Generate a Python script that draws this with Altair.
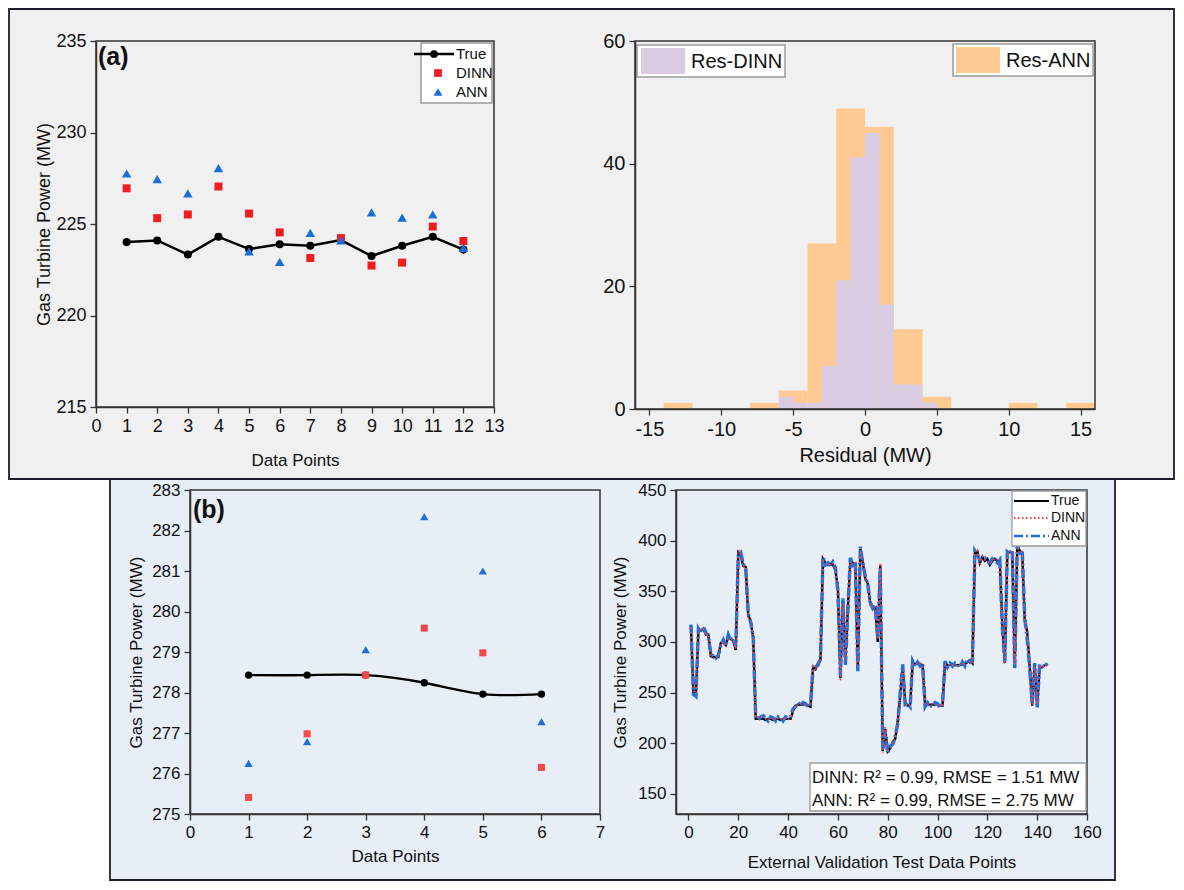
import altair as alt
import pandas as pd

FONT = "Liberation Sans"
AXIS = "#333333"
TOP_BG = "#f0f0f0"
BOT_BG = "#e7eef6"
RED_A = "#ee1d23"
BLUE_A = "#1b6ed3"
RED_B = "#f24a4a"
BLUE_B = "#1f6fd4"
ORANGE = "#ffc994"
LAVENDER = "#d9cbe2"
TS_BLUE = "#1e70dc"
TS_RED = "#ff4040"

# ---------------- panel (a) left ----------------
a_points = list(range(1, 13))
a_true = [224.01, 224.10, 223.33, 224.30, 223.63, 223.89, 223.81, 224.12, 223.25, 223.81, 224.30, 223.60]
a_dinn = [226.95, 225.32, 225.52, 227.05, 225.57, 224.54, 223.14, 224.23, 222.73, 222.89, 224.86, 224.07]
a_ann = [227.76, 227.45, 226.67, 228.05, 223.50, 222.93, 224.52, 224.10, 225.64, 225.35, 225.53, 223.69]
a_xticks = list(range(0, 14))
a_yticks = [215, 220, 225, 230, 235]

# ---------------- panel (a) right: residual histograms ----------------
ann_bin_start = [-14, -8, -6, -4, -2, 0, 2, 4, 10, 14]
ann_bin_end = [-12, -6, -4, -2, 0, 2, 4, 6, 12, 16]
ann_counts = [1, 1, 3, 27, 49, 46, 13, 2, 1, 1]
dinn_bin_start = [-6, -5, -4, -3, -2, -1, 0, 1, 2, 3, 4]
dinn_bin_end = [-5, -4, -3, -2, -1, 0, 1, 2, 3, 4, 5]
dinn_counts = [2, 1, 1, 7, 21, 41, 45, 17, 4, 4, 1]
h_xticks = [-15, -10, -5, 0, 5, 10, 15]
h_yticks = [0, 20, 40, 60]

# ---------------- panel (b) left ----------------
b_points = [1, 2, 3, 4, 5, 6]
b_true = [278.43, 278.43, 278.43, 278.24, 277.96, 277.96]
b_dinn = [275.41, 276.98, 278.43, 279.59, 278.98, 276.15]
b_ann = [276.25, 276.79, 279.06, 282.34, 281.00, 277.28]
b_xticks = list(range(0, 8))
b_yticks = list(range(275, 284))

# ---------------- panel (b) right: external validation series ----------------
ts_true = [316, 250, 248, 311, 311, 313, 307, 307, 286, 285,
           285, 285, 299, 300, 297, 305, 303, 301, 292, 388,
           385, 375, 374, 326, 321, 303, 224, 224, 224, 224,
           223, 224, 224, 223, 224, 224, 223, 224, 224, 224,
           224, 232, 237, 238, 238, 238, 238, 237, 236, 275,
           273, 279, 282, 382, 378, 376, 377, 376, 371, 353,
           264, 340, 280, 333, 380, 378, 376, 274, 392, 379,
           362, 358, 337, 335, 334, 300, 376, 192, 214, 192,
           195, 201, 204, 221, 246, 275, 240, 237, 238, 279,
           278, 279, 278, 277, 238, 238, 238, 238, 238, 238,
           237, 237, 279, 277, 277, 278, 277, 277, 277, 278,
           278, 280, 282, 279, 388, 389, 378, 384, 380, 382,
           376, 380, 382, 380, 379, 318, 279, 387, 389, 388,
           276, 394, 390, 388, 321, 310, 276, 237, 277, 237,
           275, 275, 277, 277]
ts_dinn = [314, 252, 249, 309, 312, 314, 306, 308, 287, 284,
           286, 285, 300, 299, 298, 304, 304, 302, 293, 391,
           386, 374, 375, 324, 322, 302, 225, 226, 227, 225,
           224, 223, 225, 224, 223, 225, 224, 223, 225, 223,
           225, 231, 238, 237, 239, 238, 237, 238, 237, 276,
           272, 280, 281, 380, 379, 375, 378, 377, 369, 355,
           262, 338, 282, 335, 379, 377, 378, 276, 390, 380,
           361, 359, 336, 336, 332, 302, 378, 190, 216, 193,
           194, 202, 203, 222, 244, 273, 241, 236, 239, 278,
           279, 278, 279, 276, 239, 237, 238, 239, 237, 238,
           238, 236, 278, 278, 276, 277, 278, 276, 278, 277,
           279, 281, 281, 280, 386, 390, 377, 385, 381, 381,
           377, 379, 383, 381, 378, 320, 278, 385, 390, 387,
           278, 392, 391, 387, 319, 312, 278, 238, 276, 238,
           276, 274, 278, 277]
ts_ann = [317, 248, 246, 313, 309, 315, 309, 305, 288, 286,
          284, 287, 297, 302, 296, 307, 301, 304, 295, 385,
          388, 377, 372, 328, 319, 305, 226, 223, 226, 227,
          225, 222, 226, 225, 222, 226, 225, 222, 226, 225,
          226, 234, 236, 240, 237, 240, 239, 236, 238, 273,
          275, 277, 284, 384, 376, 378, 375, 379, 373, 350,
          267, 343, 277, 331, 383, 376, 379, 271, 394, 377,
          365, 356, 339, 333, 336, 303, 373, 195, 211, 190,
          197, 199, 206, 219, 249, 278, 238, 239, 236, 281,
          276, 280, 276, 279, 236, 240, 237, 236, 240, 239,
          235, 239, 281, 275, 279, 276, 279, 278, 275, 280,
          276, 283, 280, 282, 390, 386, 381, 382, 383, 379,
          378, 382, 380, 378, 381, 315, 281, 389, 387, 391,
          273, 396, 388, 390, 324, 303, 274, 239, 279, 235,
          278, 277, 275, 279]
ts_x = list(range(1, len(ts_true) + 1))
t_xticks = list(range(0, 161, 20))
t_yticks = [150, 200, 250, 300, 350, 400, 450]

legend_a = ["True", "DINN", "ANN"]
hist_labels = ["Res-DINN", "Res-ANN"]
stats_lines = ["DINN: R\u00b2 = 0.99, RMSE = 1.51 MW", "ANN: R\u00b2 = 0.99, RMSE = 2.75 MW"]

# ---------------- layout sizes ----------------
A1_W, A1_H = 398, 366
A2_W, A2_H = 460, 368
B1_W, B1_H = 410, 324
B2_W, B2_H = 411, 324

one = pd.DataFrame({"k": [0]})


def rect(x, x2, y, y2, **kw):
    return alt.Chart(one).mark_rect(**kw).encode(
        x=alt.value(x), x2=alt.value(x2), y=alt.value(y), y2=alt.value(y2))


def frame(w, h):
    return rect(0, w, 0, h, fill="white", fillOpacity=0, stroke=AXIS, strokeWidth=1.5)


def text(x, y, s, size, weight="normal", baseline="alphabetic", align="left"):
    return alt.Chart(one).mark_text(
        font=FONT, fontSize=size, fontWeight=weight, baseline=baseline,
        align=align, color="#111111").encode(
        x=alt.value(x), y=alt.value(y), text=alt.value(s))


def hrule(x, x2, y, color, width, dash=None):
    kw = dict(color=color, strokeWidth=width)
    if dash:
        kw["strokeDash"] = dash
    return alt.Chart(one).mark_rule(**kw).encode(
        x=alt.value(x), x2=alt.value(x2), y=alt.value(y))


def sym(x, y, shape, color, size):
    return alt.Chart(one).mark_point(shape=shape, filled=True, color=color,
                                     size=size, opacity=1).encode(
        x=alt.value(x), y=alt.value(y))


def axis(values, title, lsize, tsize, tpad, lpad=3):
    kw = dict(values=values, grid=False, labelFontSize=lsize, titleFontSize=tsize,
              titlePadding=tpad, labelPadding=lpad, tickSize=6, tickWidth=1.3,
              domainWidth=1.5, domainColor=AXIS, tickColor=AXIS, labelColor="#111111",
              titleColor="#111111", titleFontWeight="normal", labelFont=FONT,
              titleFont=FONT, labelFlush=False, labelOverlap=False,
              labelExpr="'' + datum.value", zindex=2)
    kw["title"] = title
    return alt.Axis(**kw)


# ================= panel (a) left =================
a1_df = pd.DataFrame({"x": a_points, "true": a_true, "dinn": a_dinn, "ann": a_ann})
xa1 = alt.X("x:Q", scale=alt.Scale(domain=[0, 13], nice=False, zero=False),
            axis=axis(a_xticks, "Data Points", 18, 17, 17, 4))


def ya1(f):
    return alt.Y(f + ":Q", scale=alt.Scale(domain=[215, 235], nice=False, zero=False),
                 axis=axis(a_yticks, "Gas Turbine Power (MW)", 18, 18, 2, 4))


base_a1 = alt.Chart(a1_df)
A1 = alt.layer(
    rect(-87, 1078, -32, 438, fill=TOP_BG, stroke="#1e1e2a", strokeWidth=1.8),
    base_a1.mark_line(color="black", strokeWidth=2.5).encode(x=xa1, y=ya1("true")),
    base_a1.mark_point(shape="circle", filled=True, color="black", size=65, opacity=1).encode(x=xa1, y=ya1("true")),
    base_a1.mark_point(shape="square", filled=True, color=RED_A, size=64, opacity=1).encode(x=xa1, y=ya1("dinn")),
    base_a1.mark_point(shape="triangle-up", filled=True, color=BLUE_A, size=90, opacity=1).encode(x=xa1, y=ya1("ann")),
    frame(A1_W, A1_H),
    rect(325, 396, 2, 62, fill="white", stroke="#9a9a9a", strokeWidth=1.5),
    hrule(318, 358, 13, "black", 2.5),
    sym(338, 13, "circle", "black", 60),
    sym(342, 32, "square", RED_A, 60),
    sym(342, 51, "triangle-up", BLUE_A, 80),
    text(360, 13, legend_a[0], 15, baseline="middle"),
    text(360, 32, legend_a[1], 15, baseline="middle"),
    text(360, 51, legend_a[2], 15, baseline="middle"),
    text(2, 24, "(a)", 25, weight="bold"),
).properties(width=A1_W, height=A1_H)

# ================= panel (a) right =================
ann_df = pd.DataFrame({"s": ann_bin_start, "e": ann_bin_end, "c": ann_counts})
dinn_df = pd.DataFrame({"s": dinn_bin_start, "e": dinn_bin_end, "c": dinn_counts})
xh = alt.X("s:Q", scale=alt.Scale(domain=[-16, 16], nice=False, zero=False),
           axis=axis(h_xticks, "Residual (MW)", 20, 20, 6, 4))
yh = alt.Y("c:Q", scale=alt.Scale(domain=[0, 60], nice=False),
           axis=axis(h_yticks, None, 20, 20, 6, 4))
A2 = alt.layer(
    alt.Chart(ann_df).mark_rect(color=ORANGE, opacity=1).encode(x=xh, x2="e:Q", y=yh, y2=alt.datum(0)),
    alt.Chart(dinn_df).mark_rect(color=LAVENDER, opacity=1).encode(x=xh, x2="e:Q", y=yh, y2=alt.datum(0)),
    frame(A2_W, A2_H),
    rect(2, 150, 4, 36, fill="white", stroke="#9a9a9a", strokeWidth=1.5),
    rect(6, 50, 7, 33, fill=LAVENDER),
    text(56, 21, hist_labels[0], 20, baseline="middle"),
    rect(318, 458, 3, 35, fill="white", stroke="#9a9a9a", strokeWidth=1.5),
    rect(321, 365, 6, 32, fill=ORANGE),
    text(371, 20, hist_labels[1], 20, baseline="middle"),
).properties(width=A2_W, height=A2_H)

# ================= panel (b) left =================
b1_df = pd.DataFrame({"x": b_points, "true": b_true, "dinn": b_dinn, "ann": b_ann})
xb1 = alt.X("x:Q", scale=alt.Scale(domain=[0, 7], nice=False, zero=False),
            axis=axis(b_xticks, "Data Points", 17, 17, 8, 4))


def yb1(f):
    return alt.Y(f + ":Q", scale=alt.Scale(domain=[275, 283], nice=False, zero=False),
                 axis=axis(b_yticks, "Gas Turbine Power (MW)", 17, 17, 6, 4))


base_b1 = alt.Chart(b1_df)
B1 = alt.layer(
    rect(-80, 925, -11, 390, fill=BOT_BG, stroke="#1e1e2a", strokeWidth=1.8),
    base_b1.mark_line(color="black", strokeWidth=2.4, interpolate="natural").encode(x=xb1, y=yb1("true")),
    base_b1.mark_point(shape="circle", filled=True, color="black", size=55, opacity=1).encode(x=xb1, y=yb1("true")),
    base_b1.mark_point(shape="square", filled=True, color=RED_B, size=50, opacity=1).encode(x=xb1, y=yb1("dinn")),
    base_b1.mark_point(shape="triangle-up", filled=True, color=BLUE_B, size=70, opacity=1).encode(x=xb1, y=yb1("ann")),
    frame(B1_W, B1_H),
    text(3, 28, "(b)", 25, weight="bold"),
).properties(width=B1_W, height=B1_H)

# ================= panel (b) right =================
t_true = pd.DataFrame({"x": ts_x, "v": ts_true})
t_dinn = pd.DataFrame({"x": ts_x, "v": ts_dinn})
t_ann = pd.DataFrame({"x": ts_x, "v": ts_ann})
xt = alt.X("x:Q", scale=alt.Scale(domain=[-5, 160], nice=False, zero=False),
           axis=axis(t_xticks, "External Validation Test Data Points", 17, 17, 14, 4))
yt = alt.Y("v:Q", scale=alt.Scale(domain=[130, 450], nice=False, zero=False),
           axis=axis(t_yticks, "Gas Turbine Power (MW)", 17, 17, 8, 4))
B2 = alt.layer(
    alt.Chart(t_true).mark_line(color="black", strokeWidth=2.4).encode(x=xt, y=yt),
    alt.Chart(t_ann).mark_line(color=TS_BLUE, strokeWidth=3.4, strokeDash=[9, 3, 2, 3]).encode(x=xt, y=yt),
    alt.Chart(t_dinn).mark_line(color=TS_RED, strokeWidth=1.8, strokeDash=[1.5, 3]).encode(x=xt, y=yt),
    frame(B2_W, B2_H),
    rect(336, 410, 1, 56, fill="white", stroke="#9a9a9a", strokeWidth=1.3),
    hrule(338, 373, 11, "black", 2),
    hrule(338, 373, 28, TS_RED, 1.8, [1.5, 2.5]),
    hrule(338, 373, 46, TS_BLUE, 2.5, [9, 3, 2, 3]),
    text(375, 11, legend_a[0], 14, baseline="middle"),
    text(375, 28, legend_a[1], 14, baseline="middle"),
    text(375, 46, legend_a[2], 14, baseline="middle"),
    rect(134, 410, B2_H - 51, B2_H - 3, fill="white", stroke="#9a9a9a", strokeWidth=1.3),
    text(136, B2_H - 31, stats_lines[0], 17),
    text(136, B2_H - 8, stats_lines[1], 17),
).properties(width=B2_W, height=B2_H)

spacer = alt.Chart(one).mark_point(opacity=0).encode(
    x=alt.value(0), y=alt.value(0)).properties(width=18, height=B1_H)

top_row = alt.hconcat(A1, A2, spacing=141, bounds="flush")
bottom_row = alt.hconcat(spacer, B1, B2, spacing=76, bounds="flush")

chart = alt.vconcat(top_row, bottom_row, spacing=-2).properties(
    padding=0, background="white"
).configure_view(strokeWidth=0)

chart.save("out.html", embed_options={"renderer": "svg", "actions": False})
